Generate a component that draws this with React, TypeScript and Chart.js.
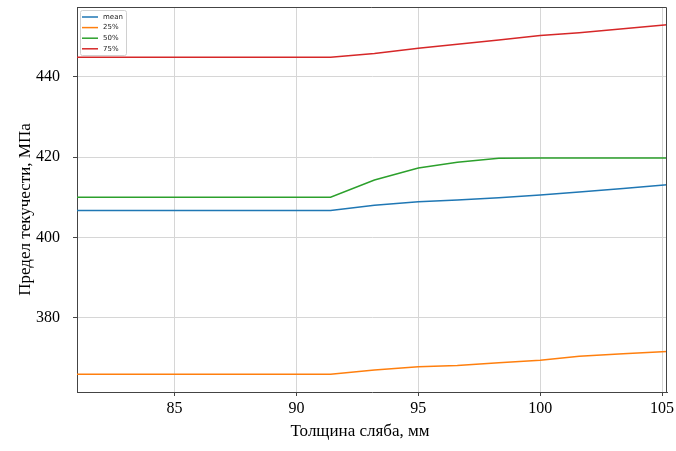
import { useEffect, useRef } from "react";
import { Chart, registerables } from "chart.js";
Chart.register(...registerables);

// slab thickness, mm
const thickness = [81.0, 91.4, 93.2, 95.0, 96.6, 98.3, 100.0, 101.6, 103.4, 105.2];
// yield strength, MPa
const meanValues = [406.7, 406.7, 408.0, 408.9, 409.3, 409.9, 410.6, 411.3, 412.2, 413.1];
const q25Values = [365.9, 365.9, 367.0, 367.8, 368.1, 368.8, 369.4, 370.4, 371.0, 371.6];
const q50Values = [410.0, 410.0, 414.3, 417.3, 418.7, 419.7, 419.8, 419.8, 419.8, 419.8];
const q75Values = [444.9, 444.9, 445.8, 447.1, 448.1, 449.2, 450.3, 451.0, 452.0, 453.0];
const seriesLabels = ["mean", "25%", "50%", "75%"];
const seriesColors = ["#1f77b4", "#ff7f0e", "#2ca02c", "#d62728"];
const xTicks = [85, 90, 95, 100, 105];
const yTicks = [380, 400, 420, 440];
const xTitle = "Толщина сляба, мм";
const yTitle = "Предел текучести, МПа";

const SERIF = "'Liberation Serif', 'Times New Roman', serif";

const frameAndLegend = {
  id: "frameAndLegend",
  afterDraw(chart: Chart) {
    const { ctx, chartArea: a } = chart;
    ctx.save();
    // top / right spines
    ctx.strokeStyle = "#444";
    ctx.lineWidth = 1;
    ctx.beginPath();
    ctx.moveTo(a.left, a.top + 0.5);
    ctx.lineTo(a.right - 0.5, a.top + 0.5);
    ctx.lineTo(a.right - 0.5, a.bottom);
    ctx.stroke();

    // axis titles (offset like the original figure)
    ctx.fillStyle = "#000";
    ctx.font = `17px ${SERIF}`;
    ctx.textAlign = "center";
    ctx.textBaseline = "alphabetic";
    ctx.fillText(xTitle, (a.left + a.right) / 2 - 12, 436);
    ctx.save();
    ctx.translate(29.5, (a.top + a.bottom) / 2 + 10);
    ctx.rotate(-Math.PI / 2);
    ctx.fillText(yTitle, 0, 0);
    ctx.restore();

    // legend in upper left corner
    ctx.textAlign = "left";
    const bx = a.left + 3;
    const by = a.top + 3;
    ctx.fillStyle = "rgba(255,255,255,0.8)";
    ctx.strokeStyle = "#d0d0d0";
    ctx.beginPath();
    ctx.roundRect(bx + 0.5, by + 0.5, 46, 45, 2);
    ctx.fill();
    ctx.stroke();
    ctx.font = "7px 'DejaVu Sans', sans-serif";
    ctx.textBaseline = "middle";
    seriesLabels.forEach((lbl, i) => {
      const y = by + 7 + i * 10.6;
      ctx.strokeStyle = seriesColors[i];
      ctx.lineWidth = 1.5;
      ctx.beginPath();
      ctx.moveTo(bx + 2, y);
      ctx.lineTo(bx + 18, y);
      ctx.stroke();
      ctx.fillStyle = "#222";
      ctx.fillText(lbl, bx + 23, y);
    });
    ctx.restore();
  },
};

const App = () => {
  const canvasRef = useRef<HTMLCanvasElement>(null);
  const chartRef = useRef<Chart | null>(null);

  useEffect(() => {
    if (!canvasRef.current) return;
    if (chartRef.current) chartRef.current.destroy();

    const series = [meanValues, q25Values, q50Values, q75Values];

    chartRef.current = new Chart(canvasRef.current, {
      type: "line",
      data: {
        datasets: series.map((vals, i) => ({
          label: seriesLabels[i],
          data: vals.map((v, j) => ({ x: thickness[j], y: v })),
          borderColor: seriesColors[i],
          backgroundColor: seriesColors[i],
          borderWidth: 1.5,
          pointRadius: 0,
          tension: 0,
        })),
      },
      options: {
        animation: false,
        responsive: true,
        maintainAspectRatio: false,
        layout: { padding: { top: 7, right: 9, left: 0, bottom: 0 } },
        plugins: {
          legend: { display: false },
          tooltip: { enabled: false },
        },
        scales: {
          x: {
            type: "linear",
            min: 81.0,
            max: 105.2,
            afterBuildTicks: (s) => {
              s.ticks = xTicks.map((v) => ({ value: v }));
            },
            afterFit: (s) => {
              s.height = 59;
              s.paddingLeft = 0;
              s.paddingRight = 0;
            },
            grid: { color: "#d6d6d6", tickLength: 4, tickColor: "#444" },
            border: { color: "#444" },
            ticks: {
              color: "#000",
              font: { family: SERIF, size: 16 },
              padding: 3,
              maxRotation: 0,
            },
          },
          y: {
            min: 361.5,
            max: 457.4,
            afterBuildTicks: (s) => {
              s.ticks = yTicks.map((v) => ({ value: v }));
            },
            afterFit: (s) => {
              s.width = 77;
              s.paddingTop = 0;
              s.paddingBottom = 0;
            },
            grid: { color: "#d6d6d6", tickLength: 4, tickColor: "#444" },
            border: { color: "#444" },
            ticks: {
              color: "#000",
              font: { family: SERIF, size: 16 },
              padding: 13,
            },
          },
        },
      },
      plugins: [frameAndLegend],
    });

    return () => {
      chartRef.current?.destroy();
    };
  }, []);

  return (
    <div
      style={{
        position: "fixed",
        left: 0,
        top: 0,
        width: 676,
        height: 451,
        background: "#fff",
      }}
    >
      <canvas ref={canvasRef} />
    </div>
  );
};

export default App;
